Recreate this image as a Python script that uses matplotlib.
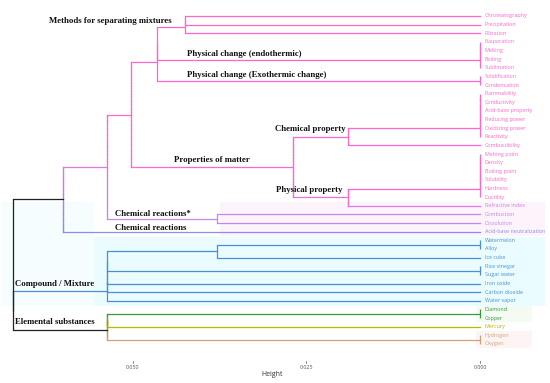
import numpy as np
import matplotlib.pyplot as plt
from matplotlib.collections import LineCollection
from matplotlib.colors import to_rgb

# leaves, top to bottom
leaves = ["Chromatography", "Precipitation", "Filtration", "Evaporation", "Melting",
          "Boiling", "Sublimation", "Solidification", "Condensation", "Flammability",
          "Conductivity", "Acid-base property", "Reducing power", "Oxidizing power",
          "Reactivity", "Combustibility", "Melting point", "Density", "Boiling point",
          "Solubility", "Hardness", "Ductility", "Refractive index", "Combustion",
          "Dissolution", "Acid-base neutralization", "Watermelon", "Alloy", "Ice cube",
          "Rice vinegar", "Sugar water", "Iron oxide", "Carbon dioxide", "Water vapor",
          "Diamond", "Copper", "Mercury", "Hydrogen", "Oxygen"]
leaf_group = ["pink"] * 22 + ["refr", "rxn", "rxn", "acid"] + ["comp"] * 8 + \
             ["dia", "dia", "hg", "gas", "gas"]

# merges: (new node, left, right, height)
merges = [
    ("ma", "Chromatography", "Precipitation", 0.0425),
    ("methods", "ma", "Filtration", 0.0425),
    ("e1", "Evaporation", "Melting", 0.0),
    ("e2", "e1", "Boiling", 0.0),
    ("endo", "e2", "Sublimation", 0.0),
    ("exo", "Solidification", "Condensation", 0.0),
    ("pc1", "methods", "endo", 0.0465),
    ("physchange", "pc1", "exo", 0.0465),
    ("c1", "Flammability", "Conductivity", 0.0),
    ("c2", "c1", "Acid-base property", 0.0),
    ("c3", "c2", "Reducing power", 0.0),
    ("c4", "c3", "Oxidizing power", 0.0),
    ("c5", "c4", "Reactivity", 0.0),
    ("chemprop", "c5", "Combustibility", 0.0190),
    ("p1", "Melting point", "Density", 0.0),
    ("p2", "p1", "Boiling point", 0.0),
    ("p3", "p2", "Solubility", 0.0),
    ("p4", "p3", "Hardness", 0.0),
    ("p5", "p4", "Ductility", 0.0),
    ("physprop", "p5", "Refractive index", 0.0190),
    ("props", "chemprop", "physprop", 0.0269),
    ("n131", "physchange", "props", 0.0503),
    ("chemrx", "Combustion", "Dissolution", 0.0379),
    ("n107", "n131", "chemrx", 0.0537),
    ("top", "n107", "Acid-base neutralization", 0.0601),
    ("w1", "Watermelon", "Alloy", 0.0),
    ("w2", "w1", "Ice cube", 0.0379),
    ("r1", "Rice vinegar", "Sugar water", 0.0),
    ("k1", "w2", "r1", 0.0537),
    ("k2", "k1", "Iron oxide", 0.0537),
    ("k3", "k2", "Carbon dioxide", 0.0537),
    ("compound", "k3", "Water vapor", 0.0537),
    ("d1", "Diamond", "Copper", 0.0),
    ("x1", "d1", "Mercury", 0.0537),
    ("g1", "Hydrogen", "Oxygen", 0.0),
    ("elem", "x1", "g1", 0.0537),
    ("ce", "compound", "elem", 0.0673),
    ("root", "top", "ce", 0.0673),
]

group_labels = ["Methods for separating mixtures", "Physical change (endothermic)",
                "Physical change (Exothermic change)", "Chemical property",
                "Properties of matter", "Physical property", "Chemical reactions*",
                "Chemical reactions", "Compound / Mixture", "Elemental substances"]
# (height, leaf position, align)
group_label_pos = [(0.0444, 0.58, "right"), (0.0422, 4.4, "left"), (0.0422, 6.8, "left"),
                   (0.0295, 13.1, "left"), (0.0441, 16.7, "left"), (0.0294, 20.2, "left"),
                   (0.0526, 22.9, "left"), (0.0526, 24.6, "left"), (0.0670, 31.05, "left"),
                   (0.0670, 35.45, "left")]

ticks = [0.050, 0.025, 0.000]

colors = {"pink": "#FF66CC", "refr": "#D97AE4", "rxn": "#C488EA", "acid": "#8A8CF0",
          "comp": "#4A8FD6", "dia": "#3A9A3A", "hg": "#BFB600", "gas": "#D0A07C"}
dark_nodes = {"top", "elem", "ce", "root"}
lw = 0.9

fig = plt.figure(figsize=(5.5, 3.83), dpi=100)
ax = fig.add_axes([0, 0, 1, 1])
ax.set_xlim(0.06916, -0.01009)
ax.set_ylim(42.53, -1.854)
ax.axis("off")


def yfrac(v):
    return 1 - (v + 1.854) / 44.384


# light cluster backgrounds
ax.axvspan(0.0556, -0.0094, ymin=yfrac(25.6), ymax=yfrac(33.6), color="#EAFCFF", lw=0, zorder=0)
ax.axvspan(0.0690, 0.0556, ymin=yfrac(21.5), ymax=yfrac(33.6), color="#F5FDFF", lw=0, zorder=0)
ax.axvspan(0.0375, -0.0094, ymin=yfrac(21.6), ymax=yfrac(25.5), color="#FDF3FB", lw=0, zorder=0)
ax.axvspan(0.0006, -0.0075, ymin=yfrac(33.6), ymax=yfrac(35.5), color="#F3FBF3", lw=0, zorder=0)
ax.axvspan(0.0006, -0.0075, ymin=yfrac(36.5), ymax=yfrac(38.5), color="#FDF5F3", lw=0, zorder=0)


def blend(c1, c2):
    a, b = np.array(to_rgb(c1)), np.array(to_rgb(c2))
    return tuple((a + b) / 2)


def vline(x, y1, y2, c1, c2):
    if to_rgb(c1) == to_rgb(c2):
        ax.plot([x, x], [y1, y2], color=c1, lw=lw, solid_capstyle="butt", zorder=2)
        return
    n = 40
    ys = np.linspace(y1, y2, n + 1)
    segs = [[(x, ys[i]), (x, ys[i + 1])] for i in range(n)]
    a, b = np.array(to_rgb(c1)), np.array(to_rgb(c2))
    cols = [tuple(a + (b - a) * s) for s in np.linspace(0, 1, n)]
    ax.add_collection(LineCollection(segs, colors=cols, linewidths=lw,
                                     capstyle="projecting", zorder=2))


pos = {}
for i, name in enumerate(leaves):
    pos[name] = (float(i), 0.0, colors[leaf_group[i]], {leaf_group[i]})

for new, left, right, h in merges:
    yl, hl, cl, gl = pos[left]
    yr, hr, cr, gr = pos[right]
    ax.plot([hl, h], [yl, yl], color=cl, lw=lw, zorder=2)
    ax.plot([hr, h], [yr, yr], color=cr, lw=lw, zorder=2)
    if new in ("ce", "root"):
        vline(h, yl, yr, "#222222", "#222222")
    else:
        vline(h, yl, yr, cl, cr)
    groups = gl | gr
    if new in dark_nodes:
        c = "#222222"
    elif len(groups) == 1:
        c = cl
    else:
        c = blend(cl, cr)
    pos[new] = ((yl + yr) / 2, h, c, groups)

for i, name in enumerate(leaves):
    ax.text(-0.0007, i, name, color=colors[leaf_group[i]], fontsize=3.9,
            family="Open Sans", ha="left", va="center")

for txt, (hx, yy, al) in zip(group_labels, group_label_pos):
    ax.text(hx, yy, txt, fontsize=6.3, family="Liberation Serif", weight="bold",
            ha=al, va="center", color="#111111")

for t in ticks:
    ax.plot([t, t], [39.95, 40.25], color="#555555", lw=0.5)
    ax.text(t, 40.7, f"{t:.3f}", fontsize=3.9, color="#555555", ha="center", va="center",
            family="Open Sans")
ax.text(0.0300, 41.6, "Height", fontsize=5, color="#333333", ha="center", va="center",
        family="Open Sans")

fig.savefig("out.png", dpi=100)
